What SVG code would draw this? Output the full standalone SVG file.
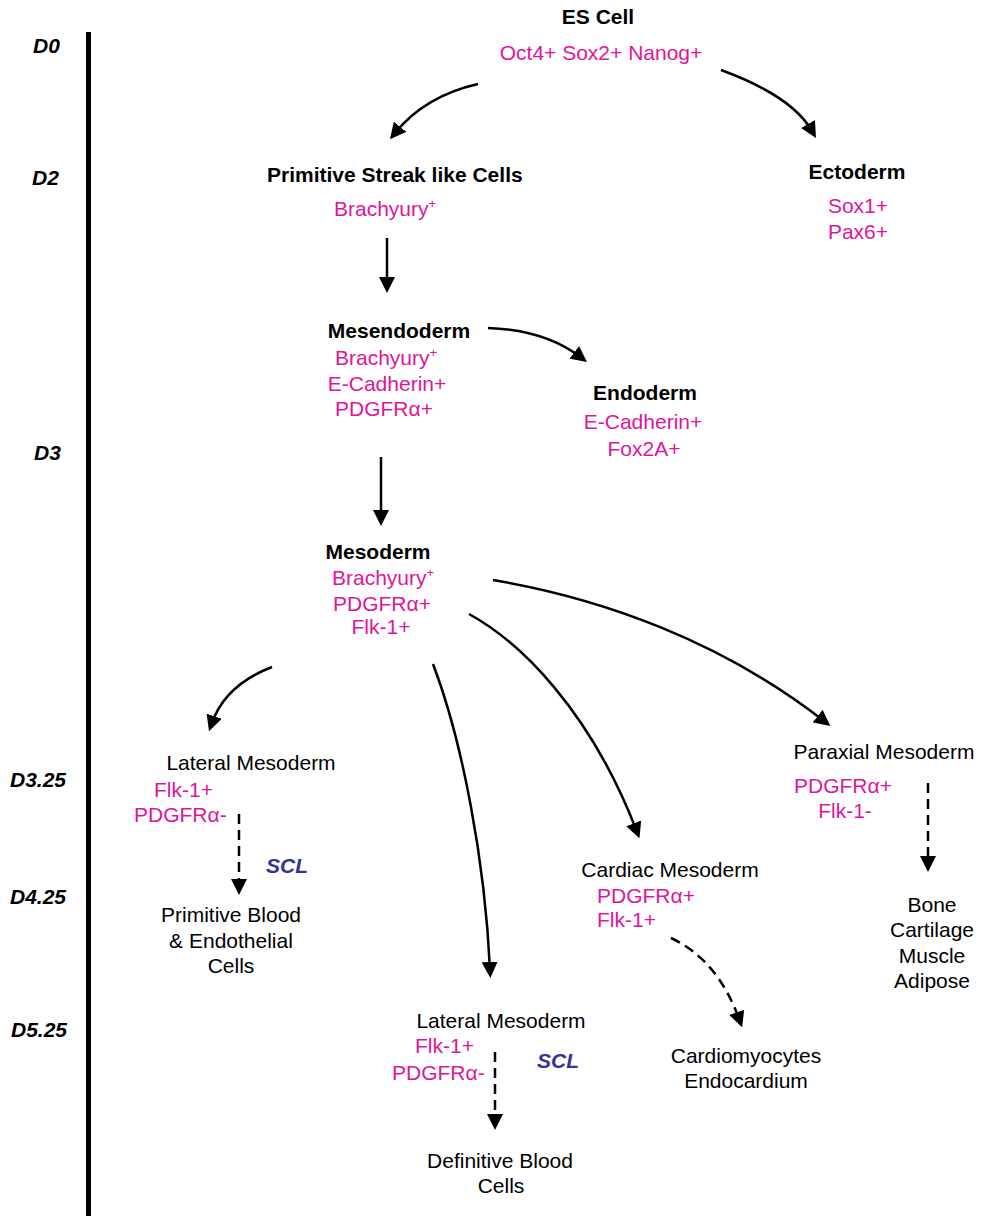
<svg xmlns="http://www.w3.org/2000/svg" width="986" height="1216" viewBox="0 0 986 1216">
<defs>
<style>
text{font-family:"Liberation Sans",Arial,sans-serif;font-size:21px}
.b{font-weight:bold;fill:#000}
.m{fill:#E0149A}
.n{fill:#000}
.t{font-weight:bold;font-style:italic;fill:#000}
.s{font-weight:bold;font-style:italic;fill:#333399}
.mid{text-anchor:middle}
.sup{font-size:13px}
.c{fill:none;stroke:#000;stroke-width:2.5;marker-end:url(#ah)}
.d{fill:none;stroke:#000;stroke-width:2.5;stroke-dasharray:10 6;marker-end:url(#ah)}
</style>
<marker id="ah" markerUnits="userSpaceOnUse" viewBox="0 0 16 16" markerWidth="16" markerHeight="16" refX="8" refY="8" orient="auto">
<path d="M0,0 L16,8 L0,16 z" fill="#000"/>
</marker>
</defs>
<rect width="986" height="1216" fill="#fff"/>

<g id="timeline">
<rect x="86" y="32" width="5" height="1184" fill="#000"/>
<text class="t" x="33" y="53">D0</text>
<text class="t" x="32" y="185">D2</text>
<text class="t" x="34" y="460">D3</text>
<text class="t" x="10" y="787">D3.25</text>
<text class="t" x="10" y="904">D4.25</text>
<text class="t" x="11" y="1037">D5.25</text>
</g>

<g id="connectors">
<path class="c" d="M478,84 Q425,96 395,133"/>
<path class="c" d="M721,70 Q792,96 812,131"/>
<path class="c" d="M387,238 L387,285"/>
<path class="c" d="M488,328 Q545,330 580.6,357.2"/>
<path class="c" d="M381,457 L381,518"/>
<path class="c" d="M493,580 C600,598 720,640 824,721"/>
<path class="c" d="M469,614 C520,642 590,710 636.6,830.8"/>
<path class="c" d="M433,664 C462,740 485,860 490,970"/>
<path class="c" d="M272,667 Q225,685 211.6,723.8"/>
<path class="d" d="M239,814 L239,887"/>
<path class="d" d="M928,783 L928,864"/>
<path class="d" d="M671,938 Q718,960 739.4,1019.8"/>
<path class="d" d="M495,1052 L495,1122"/>
</g>

<g id="es-cell">
<text class="b mid" x="598" y="24">ES Cell</text>
<text class="m mid" x="601" y="60">Oct4+ Sox2+ Nanog+</text>
</g>

<g id="primitive-streak">
<text class="b" x="267" y="182">Primitive Streak like Cells</text>
<text class="m" x="334" y="216">Brachyury<tspan class="sup" dy="-8">+</tspan></text>
</g>

<g id="ectoderm">
<text class="b mid" x="857" y="179">Ectoderm</text>
<text class="m mid" x="858" y="213">Sox1+</text>
<text class="m mid" x="858" y="239">Pax6+</text>
</g>

<g id="mesendoderm">
<text class="b mid" x="399" y="338">Mesendoderm</text>
<text class="m" x="335" y="365">Brachyury<tspan class="sup" dy="-8">+</tspan></text>
<text class="m mid" x="387" y="391">E-Cadherin+</text>
<text class="m" x="335" y="416">PDGFRα+</text>
</g>

<g id="endoderm">
<text class="b mid" x="645" y="400">Endoderm</text>
<text class="m mid" x="643" y="429">E-Cadherin+</text>
<text class="m mid" x="644" y="456">Fox2A+</text>
</g>

<g id="mesoderm">
<text class="b mid" x="378" y="559">Mesoderm</text>
<text class="m" x="332" y="585">Brachyury<tspan class="sup" dy="-8">+</tspan></text>
<text class="m" x="333" y="611">PDGFRα+</text>
<text class="m mid" x="381" y="634">Flk-1+</text>
</g>

<g id="lateral-mesoderm-1">
<text class="n mid" x="251" y="770">Lateral Mesoderm</text>
<text class="m" x="154" y="797">Flk-1+</text>
<text class="m" x="134" y="822">PDGFRα-</text>
<text class="s" x="266" y="873">SCL</text>
</g>

<g id="primitive-blood">
<text class="n mid" x="231" y="922">Primitive Blood</text>
<text class="n mid" x="231" y="948">&amp; Endothelial</text>
<text class="n mid" x="231" y="973">Cells</text>
</g>

<g id="paraxial-mesoderm">
<text class="n mid" x="884" y="759">Paraxial Mesoderm</text>
<text class="m" x="794" y="793">PDGFRα+</text>
<text class="m mid" x="845" y="818">Flk-1-</text>
</g>

<g id="bone">
<text class="n mid" x="932" y="912">Bone</text>
<text class="n mid" x="932" y="937">Cartilage</text>
<text class="n mid" x="932" y="963">Muscle</text>
<text class="n mid" x="932" y="988">Adipose</text>
</g>

<g id="cardiac-mesoderm">
<text class="n mid" x="670" y="877">Cardiac Mesoderm</text>
<text class="m" x="597" y="903">PDGFRα+</text>
<text class="m" x="597" y="927">Flk-1+</text>
</g>

<g id="cardiomyocytes">
<text class="n mid" x="746" y="1063">Cardiomyocytes</text>
<text class="n mid" x="746" y="1088">Endocardium</text>
</g>

<g id="lateral-mesoderm-2">
<text class="n mid" x="501" y="1028">Lateral Mesoderm</text>
<text class="m" x="415" y="1053">Flk-1+</text>
<text class="m" x="392" y="1080">PDGFRα-</text>
<text class="s" x="537" y="1068">SCL</text>
</g>

<g id="definitive-blood">
<text class="n mid" x="500" y="1168">Definitive Blood</text>
<text class="n mid" x="501" y="1193">Cells</text>
</g>
</svg>
